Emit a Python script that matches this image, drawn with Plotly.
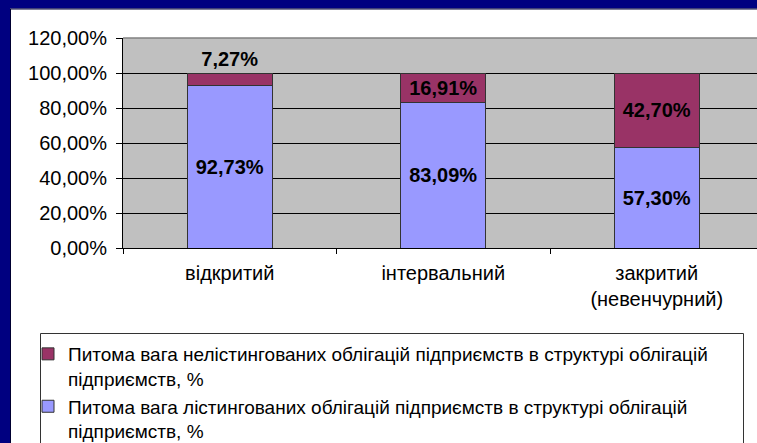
import plotly.graph_objects as go

categories = ["відкритий", "інтервальний", "закритий<br>(невенчурний)"]
listed = [92.73, 83.09, 57.30]
unlisted = [7.27, 16.91, 42.70]
name_unlisted = "Питома вага нелістингованих облігацій підприємств в структурі облігацій<br>підприємств, %"
name_listed = "Питома вага лістингованих облігацій підприємств в структурі облігацій<br>підприємств, %"
y_tickvals = [0, 20, 40, 60, 80, 100, 120]
y_ticktext = ["0,00%", "20,00%", "40,00%", "60,00%", "80,00%", "100,00%", "120,00%"]


def fmt(v):
    return f"{v:.2f}%".replace(".", ",")


W, H = 757, 443
L, R, T, B = 123, 0, 38, 195
PW, PH = W - L - R, H - T - B


def px(x):
    return (x - L) / PW


def py(y):
    return (H - B - y) / PH


FONT = "Arial, Liberation Sans, sans-serif"
NAVY = "#000080"

fig = go.Figure()
fig.add_trace(go.Bar(
    x=categories, y=listed, name=name_listed,
    marker=dict(color="#9999FF", line=dict(color="#333333", width=1)),
    width=0.4,
    text=[fmt(v) for v in listed], textposition="inside", insidetextanchor="middle",
    textfont=dict(family=FONT, size=20, color="black", weight="bold"),
    constraintext="none",
))
fig.add_trace(go.Bar(
    x=categories, y=unlisted, name=name_unlisted,
    marker=dict(color="#993366", line=dict(color="#333333", width=1)),
    width=0.4,
    text=[fmt(v) for v in unlisted], textposition=["outside", "inside", "inside"],
    insidetextanchor="middle",
    textfont=dict(family=FONT, size=20, color="black", weight="bold"),
    constraintext="none",
))

shapes = [
    # navy frame strips
    dict(type="rect", xref="paper", yref="paper", x0=px(-5), x1=px(10), y0=py(H + 5), y1=py(-5),
         fillcolor=NAVY, line=dict(width=0), layer="above"),
    dict(type="rect", xref="paper", yref="paper", x0=px(-5), x1=px(W + 5), y0=py(8.5), y1=py(-5),
         fillcolor=NAVY, line=dict(width=0), layer="above"),
    dict(type="line", xref="paper", yref="paper", x0=px(10), x1=px(W + 5), y0=py(9), y1=py(9),
         line=dict(color="#000030", width=1), layer="above"),
    dict(type="line", xref="paper", yref="paper", x0=px(10.5), x1=px(10.5), y0=py(9), y1=py(H + 5),
         line=dict(color="#000030", width=1), layer="above"),
    # top border of plot area
    dict(type="line", xref="paper", yref="paper", x0=0, x1=1, y0=1, y1=1,
         line=dict(color="#808080", width=1.5), layer="above"),
    # legend box
    dict(type="rect", xref="paper", yref="paper", x0=px(40.5), x1=px(743.5), y0=py(470), y1=py(333.5),
         fillcolor="rgba(0,0,0,0)", line=dict(color="#333333", width=1), layer="above"),
]

fig.update_layout(
    width=W, height=H, autosize=False,
    margin=dict(l=L, r=R, t=T, b=B, pad=0, autoexpand=False),
    paper_bgcolor="white", plot_bgcolor="#C0C0C0",
    barmode="stack",
    font=dict(family=FONT, size=20, color="black"),
    showlegend=True,
    legend=dict(
        x=px(28), y=py(335), xanchor="left", yanchor="top",
        traceorder="reversed", valign="top",
        font=dict(family=FONT, size=19, color="black"),
        bgcolor="rgba(0,0,0,0)", borderwidth=0, tracegroupgap=0,
    ),
    xaxis=dict(
        type="category", range=[-0.5, -0.5 + PW / 213.5],
        tickson="boundaries", ticks="outside", ticklen=5, tickcolor="black",
        showline=True, linecolor="black", linewidth=1, showgrid=False,
        tickfont=dict(family=FONT, size=20, color="black"),
        ticklabelstandoff=7,
    ),
    yaxis=dict(
        range=[0, 120], tickvals=y_tickvals, ticktext=y_ticktext,
        ticks="outside", ticklen=6, tickcolor="black",
        showline=True, linecolor="black", linewidth=1,
        showgrid=True, gridcolor="black", gridwidth=1, zeroline=False,
        tickfont=dict(family=FONT, size=20, color="black"),
        ticklabelstandoff=5,
    ),
    shapes=shapes,
)

fig.write_html(
    "out.html",
    config={"displayModeBar": False},
    post_script="document.body.style.margin='0';document.body.style.overflow='hidden';",
)
